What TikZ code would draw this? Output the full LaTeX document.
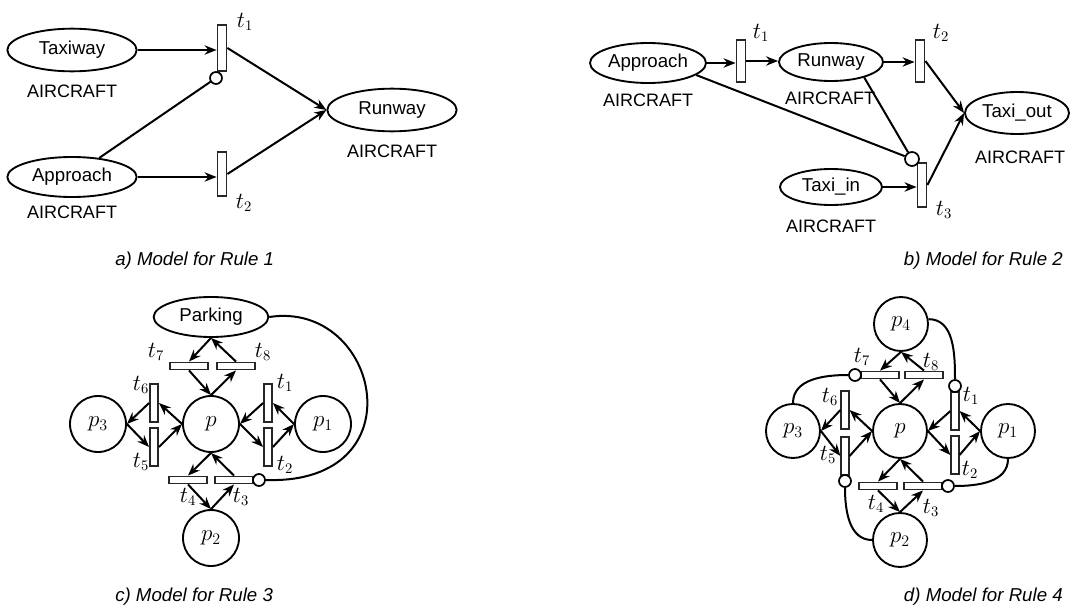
\documentclass[tikz,border=0pt]{standalone}
\usepackage{fontspec}
\setmainfont{Liberation Sans}
\usetikzlibrary{arrows.meta,shapes.geometric}
\begin{document}
\begin{tikzpicture}[x=0.75pt,y=-0.75pt,
  pl/.style={ellipse, draw, line width=1.4pt, inner sep=0pt, font=\fontsize{14}{16}\selectfont},
  cpl/.style={circle, draw, line width=1.4pt, inner sep=0pt, minimum size=42pt, font=\fontsize{18}{20}\selectfont},
  trans/.style={rectangle, draw=black!85, fill=white, line width=1.4pt, inner sep=0pt},
  inh/.style={circle, draw, fill=white, line width=1.3pt, inner sep=0pt, minimum size=9pt},
  lbl/.style={font=\fontsize{13.5}{15}\selectfont, inner sep=0pt},
  tl/.style={font=\fontsize{16}{18}\selectfont, inner sep=0pt},
  captxt/.style={font=\itshape\fontsize{14}{16}\selectfont, inner sep=0pt},
  arr/.style={-{Stealth[length=9pt,width=7pt]}, line width=1.5pt},
  con/.style={line width=1.5pt}
]
\useasboundingbox (0,0) rectangle (1076,614);

% ---------------- a) ----------------
\node[pl, minimum width=97pt, minimum height=32pt] (aTaxi) at (72,50) {Taxiway};
\node[lbl] (aTaxiL) at (72,91) {AIRCRAFT};
\node[pl, minimum width=97pt, minimum height=30pt] (aAppr) at (72,177) {Approach};
\node[lbl] (aApprL) at (72,212) {AIRCRAFT};
\node[pl, minimum width=97pt, minimum height=32pt] (aRun) at (392,110) {Runway};
\node[lbl] (aRunL) at (392,151) {AIRCRAFT};
\node[trans, minimum width=6.75pt, minimum height=34.5pt] (at1) at (222,48) {};
\node[trans, minimum width=6.75pt, minimum height=33pt] (at2) at (222,174) {};
\node[inh] (ai) at (216,78) {};
\node[tl] (at1L) at (245,22) {$t_1$};
\node[tl] (at2L) at (244,203) {$t_2$};
\draw[arr] (aTaxi.east) -- (aTaxi.east -| at1.west);
\draw[arr] (aAppr.east) -- (aAppr.east -| at2.west);
\draw[arr] (at1.east) -- (aRun.west);
\draw[arr] (at2.east) -- (aRun.west);
\draw[con] (aAppr.35) -- (ai);
\node[captxt, anchor=west] (capa) at (115,261) {a) Model for Rule 1};

% ---------------- b) ----------------
\node[pl, minimum width=87pt, minimum height=30pt] (bAppr) at (648,63) {Approach};
\node[lbl] (bApprL) at (648,100) {AIRCRAFT};
\node[pl, minimum width=78pt, minimum height=28.5pt] (bRun) at (831,62) {Runway};
\node[lbl] (bRunL) at (830,98) {AIRCRAFT};
\node[pl, minimum width=78pt, minimum height=31.5pt] (bOut) at (1017,113) {Taxi\_out};
\node[lbl] (bOutL) at (1020,157) {AIRCRAFT};
\node[pl, minimum width=76.5pt, minimum height=27pt] (bIn) at (831,187) {Taxi\_in};
\node[lbl] (bInL) at (831,226) {AIRCRAFT};
\node[trans, minimum width=6.75pt, minimum height=31.5pt] (bt1) at (741,61) {};
\node[trans, minimum width=6.75pt, minimum height=31.5pt] (bt2) at (920,61) {};
\node[trans, minimum width=6.75pt, minimum height=33pt] (bt3) at (922,185) {};
\node[inh, minimum size=10.5pt] (bi) at (912,159) {};
\node[tl] (bt1L) at (761,33) {$t_1$};
\node[tl] (bt2L) at (941,33) {$t_2$};
\node[tl] (bt3L) at (944,210) {$t_3$};
\draw[arr] (bAppr.east) -- (bAppr.east -| bt1.west);
\draw[arr] (bt1.east) -- (bt1.east -| bRun.west);
\draw[arr] (bRun.east) -- (bRun.east -| bt2.west);
\draw[arr] (bt2.east) -- (bOut.west);
\draw[arr] (bt3.east) -- (bOut.west);
\draw[arr] (bIn.east) -- (bIn.east -| bt3.west);
\draw[con] (bAppr.-14) -- (bi);
\draw[con] (bRun.-25) -- (bi);
\node[captxt, anchor=east] (capb) at (1063,261) {b) Model for Rule 2};

% ---------------- c) ----------------
\node[cpl] (cp) at (211,424) {$p$};
\node[cpl] (cp1) at (323,424) {$p_1$};
\node[cpl] (cp3) at (98,424) {$p_3$};
\node[cpl] (cp2) at (211,538) {$p_2$};
\node[pl, minimum width=86pt, minimum height=30pt] (cPark) at (211,317) {Parking};
\node[trans, minimum width=6pt, minimum height=28.5pt] (ct6) at (154,403) {};
\node[trans, minimum width=6pt, minimum height=28.5pt] (ct5) at (154,447) {};
\node[trans, minimum width=6pt, minimum height=28.5pt] (ct1) at (268,403) {};
\node[trans, minimum width=6pt, minimum height=28.5pt] (ct2) at (268,447) {};
\node[trans, minimum width=28.5pt, minimum height=5.25pt] (ct7) at (189,366) {};
\node[trans, minimum width=28.5pt, minimum height=5.25pt] (ct8) at (236,366) {};
\node[trans, minimum width=28.5pt, minimum height=5.25pt] (ct4) at (188,480) {};
\node[trans, minimum width=28.5pt, minimum height=5.25pt] (ct3) at (234,480) {};
\node[inh] (ci) at (259,480) {};
\node[tl] (ct7L) at (156,352) {$t_7$};
\node[tl] (ct8L) at (263,352) {$t_8$};
\node[tl] (ct6L) at (141,385) {$t_6$};
\node[tl] (ct5L) at (141,462) {$t_5$};
\node[tl] (ct1L) at (285,383) {$t_1$};
\node[tl] (ct2L) at (285,465) {$t_2$};
\node[tl] (ct4L) at (188,497) {$t_4$};
\node[tl] (ct3L) at (241,497) {$t_3$};
\draw[arr] (cPark.south) -- (ct7.north);
\draw[arr] (ct8.north) -- (cPark.south);
\draw[arr] (ct7.south) -- (cp.north);
\draw[arr] (cp.north) -- (ct8.south);
\draw[arr] (ct1.west) -- (cp.east);
\draw[arr] (cp1.west) -- (ct1.east);
\draw[arr] (cp.east) -- (ct2.west);
\draw[arr] (ct2.east) -- (cp1.west);
\draw[arr] (cp.south) -- (ct4.north);
\draw[arr] (ct3.north) -- (cp.south);
\draw[arr] (ct4.south) -- (cp2.north);
\draw[arr] (cp2.north) -- (ct3.south);
\draw[arr] (ct6.west) -- (cp3.east);
\draw[arr] (cp.west) -- (ct6.east);
\draw[arr] (cp3.east) -- (ct5.west);
\draw[arr] (ct5.east) -- (cp.west);
\draw[con] (cPark.east) .. controls (380,300) and (420,485) .. (ci.east);
\node[captxt, anchor=west] (capc) at (115,597) {c) Model for Rule 3};

% ---------------- d) ----------------
\node[cpl, minimum size=40.5pt] (dp) at (900,431) {$p$};
\node[cpl, minimum size=40.5pt] (dp1) at (1008,431) {$p_1$};
\node[cpl, minimum size=40.5pt] (dp3) at (793,431) {$p_3$};
\node[cpl, minimum size=40.5pt] (dp2) at (900,540) {$p_2$};
\node[cpl, minimum size=40.5pt] (dp4) at (901,324) {$p_4$};
\node[trans, minimum width=5.5pt, minimum height=28pt] (dt6) at (845,410) {};
\node[trans, minimum width=5.5pt, minimum height=28pt] (dt5) at (845,456) {};
\node[trans, minimum width=5.5pt, minimum height=28pt] (dt1) at (955,411) {};
\node[trans, minimum width=5.5pt, minimum height=28pt] (dt2) at (955,455) {};
\node[trans, minimum width=28pt, minimum height=5.25pt] (dt7) at (880,375) {};
\node[trans, minimum width=28pt, minimum height=5.25pt] (dt8) at (924,375) {};
\node[trans, minimum width=28pt, minimum height=5.25pt] (dt4) at (878,486) {};
\node[trans, minimum width=28pt, minimum height=5.25pt] (dt3) at (923,486) {};
\node[inh] (di7) at (855,375) {};
\node[inh] (di1) at (955,386) {};
\node[inh] (di3) at (948,486) {};
\node[inh] (di5) at (845,481) {};
\node[tl] (dt7L) at (862,357) {$t_7$};
\node[tl] (dt8L) at (931,362) {$t_8$};
\node[tl] (dt6L) at (830,397) {$t_6$};
\node[tl] (dt5L) at (828,455) {$t_5$};
\node[tl] (dt1L) at (971,396) {$t_1$};
\node[tl] (dt2L) at (970,470) {$t_2$};
\node[tl] (dt4L) at (876,504) {$t_4$};
\node[tl] (dt3L) at (931,508) {$t_3$};
\draw[arr] (dp4.south) -- (dt7.north);
\draw[arr] (dt8.north) -- (dp4.south);
\draw[arr] (dt7.south) -- (dp.north);
\draw[arr] (dp.north) -- (dt8.south);
\draw[arr] (dt1.west) -- (dp.east);
\draw[arr] (dp1.west) -- (dt1.east);
\draw[arr] (dp.east) -- (dt2.west);
\draw[arr] (dt2.east) -- (dp1.west);
\draw[arr] (dp.south) -- (dt4.north);
\draw[arr] (dt3.north) -- (dp.south);
\draw[arr] (dt4.south) -- (dp2.north);
\draw[arr] (dp2.north) -- (dt3.south);
\draw[arr] (dt6.west) -- (dp3.east);
\draw[arr] (dp.west) -- (dt6.east);
\draw[arr] (dp3.east) -- (dt5.west);
\draw[arr] (dt5.east) -- (dp.west);
\draw[con] (dp4.10) to[out=0,in=90] (di1.north);
\draw[con] (dp3.north) to[out=90,in=180] (di7.west);
\draw[con] (dp1.south) to[out=-90,in=0] (di3.east);
\draw[con] (dp2.west) to[out=180,in=-90] (di5.south);
\node[captxt, anchor=east] (capd) at (1063,597) {d) Model for Rule 4};
\end{tikzpicture}
\end{document}
